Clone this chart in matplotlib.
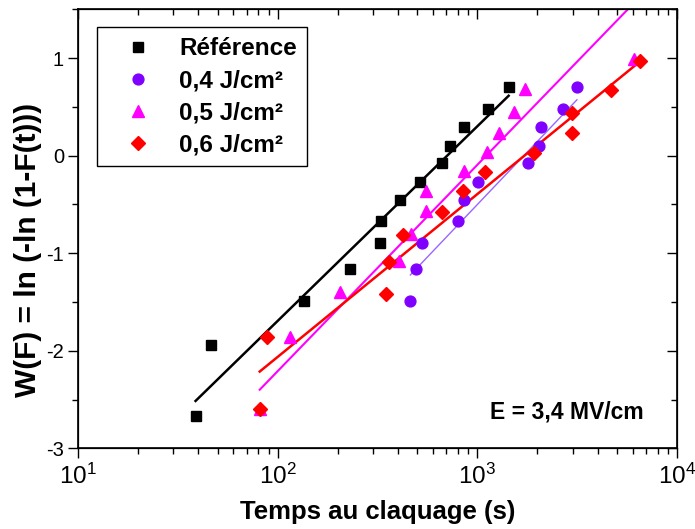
import numpy as np
import matplotlib
matplotlib.use("Agg")
import matplotlib.pyplot as plt
from matplotlib.ticker import LogLocator, MultipleLocator, NullFormatter

plt.rcParams['font.family'] = ['Liberation Sans', 'DejaVu Sans']
plt.rcParams['mathtext.default'] = 'regular'
plt.rcParams['axes.unicode_minus'] = False

# Temps au claquage (s) et W(F)
t_ref = [38.8, 46.6, 135, 229, 324, 331, 411, 517, 666, 733, 854, 1131, 1434]
w_ref = [-2.67, -1.94, -1.49, -1.16, -0.90, -0.67, -0.46, -0.27, -0.08, 0.10, 0.29, 0.48, 0.70]

t_04 = [462, 494, 527, 804, 854, 1012, 1784, 2042, 2082, 2692, 3152]
w_04 = [-1.49, -1.16, -0.90, -0.67, -0.46, -0.27, -0.08, 0.10, 0.29, 0.48, 0.70]

t_05 = [81.3, 114.8, 204, 407, 466, 554, 554, 861, 1113, 1288, 1531, 1732, 6095]
w_05 = [-2.60, -1.855, -1.40, -1.076, -0.805, -0.563, -0.358, -0.159, 0.039, 0.231, 0.442, 0.682, 0.99]

t_06 = [81.3, 88.4, 347, 360, 423, 666, 844, 1096, 1928, 2962, 2975, 4694, 6553]
w_06 = [-2.60, -1.862, -1.417, -1.086, -0.812, -0.576, -0.361, -0.166, 0.029, 0.231, 0.436, 0.668, 0.969]

# droites de Weibull : W = pente * log10(t) + ordonnee
fit_slope = [1.995, 2.152, 2.115, 1.669]
fit_intercept = [-5.684, -6.957, -6.439, -5.401]

labels = ["Référence", "0,4 J/cm²", "0,5 J/cm²", "0,6 J/cm²"]
times = [t_ref, t_04, t_05, t_06]
values = [w_ref, w_04, w_05, w_06]
markers = ["s", "o", "^", "D"]
colors = ["black", "#8000FF", "#FF00FF", "#FF0000"]
line_colors = ["black", "#9966FF", "#FF00FF", "#FF0000"]
sizes = [6.5, 7.8, 9, 7.2]
widths = [1.8, 1.0, 1.5, 1.8]

fig = plt.figure(figsize=(6.95, 5.29), dpi=100)
ax = fig.add_axes([0.1122, 0.1525, 0.862, 0.83])

for i in range(len(labels)):
    t = np.array(times[i])
    tt = np.array([t.min(), t.max()])
    ax.plot(tt, fit_slope[i] * np.log10(tt) + fit_intercept[i],
            color=line_colors[i], lw=widths[i], zorder=2)
    ax.plot(t, values[i], ls="none", marker=markers[i], color=colors[i],
            ms=sizes[i], mec=colors[i], label=labels[i], zorder=3)

ax.set_xscale("log")
ax.set_xlim(10, 1e4)
ax.set_ylim(-3, 1.5)
ax.yaxis.set_major_locator(MultipleLocator(1))
ax.yaxis.set_minor_locator(MultipleLocator(0.5))
ax.xaxis.set_major_locator(LogLocator(base=10, numticks=10))
ax.xaxis.set_minor_locator(LogLocator(base=10, subs=np.arange(2, 10), numticks=10))
ax.xaxis.set_minor_formatter(NullFormatter())

ax.tick_params(axis="both", which="major", direction="out", length=7, width=1)
ax.tick_params(axis="both", which="minor", direction="out", length=4, width=1)
ax.tick_params(axis="x", labelsize=17.5, pad=4)
ax.tick_params(axis="y", labelsize=14.5, pad=3)
for sp in ax.spines.values():
    sp.set_linewidth(1.2)

# ticks intérieurs en haut et à droite
axt = ax.twiny()
axt.set_xscale("log")
axt.set_xlim(ax.get_xlim())
axt.xaxis.set_major_locator(LogLocator(base=10, numticks=10))
axt.xaxis.set_minor_locator(LogLocator(base=10, subs=np.arange(2, 10), numticks=10))
axt.tick_params(axis="x", which="major", direction="in", length=7, width=1, labeltop=False)
axt.tick_params(axis="x", which="minor", direction="in", length=4, width=1)
axt.xaxis.set_minor_formatter(NullFormatter())
axr = ax.twinx()
axr.set_ylim(ax.get_ylim())
axr.yaxis.set_major_locator(MultipleLocator(1))
axr.yaxis.set_minor_locator(MultipleLocator(0.5))
axr.tick_params(axis="y", which="major", direction="in", length=7, width=1, labelright=False)
axr.tick_params(axis="y", which="minor", direction="in", length=4, width=1)

ax.set_xlabel("Temps au claquage (s)", fontsize=18.5, fontweight="bold", labelpad=8)
ax.set_ylabel("W(F) = ln (-ln (1-F(t)))", fontsize=21.5, fontweight="bold")
ax.yaxis.set_label_coords(-0.060, 0.452)

ax.text(0.945, 0.082, "E = 3,4 MV/cm", transform=ax.transAxes, ha="right", va="center",
        fontsize=16.5, fontweight="bold")

leg = ax.legend(loc="upper left", bbox_to_anchor=(0.032, 0.96), borderaxespad=0,
                numpoints=1, fancybox=False, edgecolor="black", framealpha=1,
                prop={"size": 17.5, "weight": "bold"}, handlelength=2.5,
                handletextpad=0.45, labelspacing=0.37, borderpad=0.42)
leg.get_frame().set_linewidth(1.0)
leg.set_zorder(5)

fig.savefig("out.png", dpi=100)
